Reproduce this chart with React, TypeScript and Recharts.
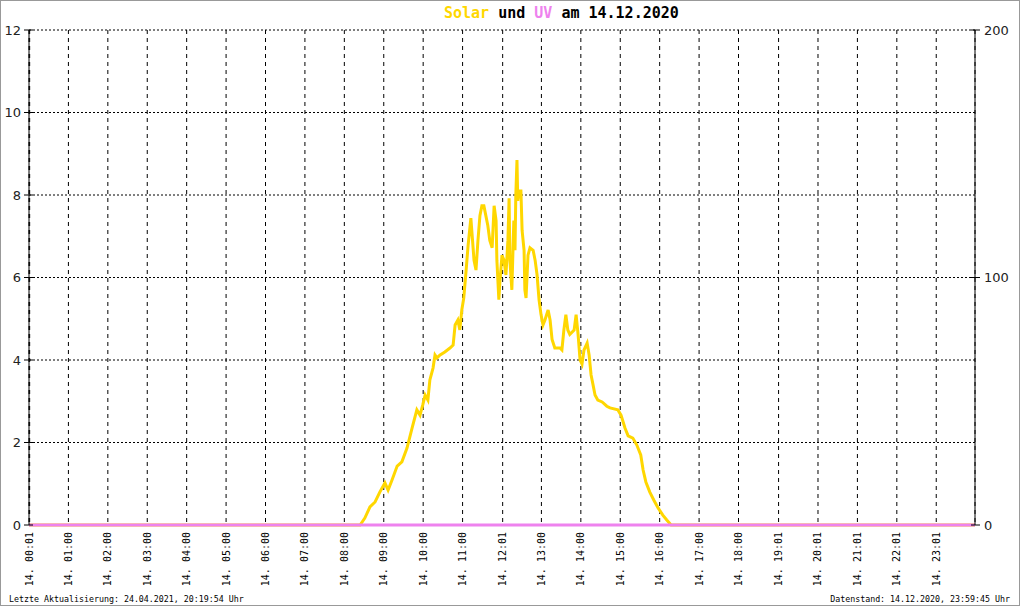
import React from 'react';
import { LineChart, Line, XAxis, YAxis, CartesianGrid } from 'recharts';

// time of day in hours
const solarTimes = [
  0, 8.4, 8.52, 8.65, 8.78, 8.9, 9.03, 9.11, 9.21, 9.34, 9.46, 9.59, 9.72, 9.84, 9.92, 9.99,
  10.05, 10.12, 10.17, 10.25, 10.3, 10.35, 10.43, 10.55, 10.68, 10.76, 10.81, 10.88, 10.93, 10.98,
  11.03, 11.09, 11.14, 11.21, 11.29, 11.34, 11.39, 11.44, 11.49, 11.54, 11.59, 11.64, 11.69, 11.75,
  11.8, 11.85, 11.87, 11.92, 11.95, 12.0, 12.05, 12.1, 12.15, 12.18, 12.2, 12.25, 12.3, 12.33,
  12.35, 12.38, 12.4, 12.43, 12.48, 12.51, 12.56, 12.58, 12.61, 12.66, 12.71, 12.79, 12.84, 12.89,
  12.94, 12.99, 13.04, 13.09, 13.17, 13.22, 13.27, 13.34, 13.47, 13.52, 13.57, 13.62, 13.67, 13.72,
  13.83, 13.88, 13.93, 13.98, 14.03, 14.08, 14.16, 14.21, 14.26, 14.31, 14.36, 14.43, 14.54, 14.66,
  14.74, 14.94, 15.02, 15.12, 15.2, 15.32, 15.42, 15.52, 15.58, 15.65, 15.75, 15.85, 15.96, 16.08,
  16.18, 16.29, 24,
];

// solar radiation (right axis, 0..200)
const solarValues = [
  0, 0, 2.8, 7.3, 9.3, 13.3, 17, 14.1, 18.2, 23.8, 25.5, 31.1, 39.2, 46.5, 44.4, 48.5,
  52.5, 50.5, 58.6, 63.4, 68.7, 67.5, 68.7, 69.9, 71.5, 72.7, 80.8, 82.8, 78.8, 86.9,
  91.7, 103, 113, 124, 107, 103, 115, 125, 129, 129, 125, 121, 115, 112,
  129, 123, 107, 91, 99, 109, 107, 101, 115, 132, 107, 95, 123, 111,
  133, 147.5, 131, 135, 135, 119, 111, 95, 91.7, 109, 112, 111, 107, 101,
  91, 85, 80.8, 82.8, 86.9, 82.8, 75, 71.5, 71.5, 70.7, 78.8, 85, 78.8, 77,
  78.8, 85, 77, 66.7, 65, 70.7, 73.5, 68.7, 60.6, 56.6, 52.5, 50.5, 49.7, 48,
  47.3, 46.5, 44.4, 39.2, 36, 35.1, 32.3, 28.3, 22.2, 17.4, 13.3, 10.1, 6.9, 4,
  2, 0, 0,
];

// UV index (left axis, 0..12), flat all day
const uvTimes = [0, 24];
const uvValues = [0, 0];

const xTickLabels = [
  '14. 00:01', '14. 01:00', '14. 02:00', '14. 03:00', '14. 04:00', '14. 05:00', '14. 06:00',
  '14. 07:00', '14. 08:00', '14. 09:00', '14. 10:00', '14. 11:00', '14. 12:01', '14. 13:00',
  '14. 14:00', '14. 15:00', '14. 16:00', '14. 17:00', '14. 18:00', '14. 19:01', '14. 20:01',
  '14. 21:01', '14. 22:01', '14. 23:01',
];
const uvTicks = [0, 2, 4, 6, 8, 10, 12];
const solarTicks = [0, 100, 200];

const labelAt: Record<number, string> = {};
const xTicks = xTickLabels.map((l) => {
  const [hh, mm] = l.slice(4).split(':');
  const v = Number(hh) + Number(mm) / 60;
  labelAt[v] = l;
  return v;
});

const solarData = solarTimes.map((t, i) => ({ t, solar: solarValues[i] }));
const uvData = uvTimes.map((t, i) => ({ t, uv: uvValues[i] }));

const mono = '"DejaVu Sans Mono", "Liberation Mono", monospace';
const sans = '"DejaVu Sans", sans-serif';

const XTick = (props: any) => {
  const { x, payload } = props;
  const y = 532;
  return (
    <text
      x={x}
      y={y}
      dy="0.35em"
      textAnchor="end"
      transform={`rotate(-90 ${x} ${y})`}
      fontFamily={mono}
      fontSize={10}
      fill="#000"
    >
      {labelAt[payload.value]}
    </text>
  );
};

// tick mark crosses the axis line, label outside
const LeftTick = (props: any) => {
  const { y, payload } = props;
  const ax = 29;
  return (
    <g>
      <line x1={ax - 5} x2={ax + 4} y1={y} y2={y} stroke="#000" />
      <text x={ax - 8} y={y} dy="0.36em" textAnchor="end" fontFamily={sans} fontSize={13} fill="#222">
        {payload.value}
      </text>
    </g>
  );
};

const RightTick = (props: any) => {
  const { y, payload } = props;
  const ax = 975;
  return (
    <g>
      <line x1={ax - 4} x2={ax + 5} y1={y} y2={y} stroke="#000" />
      <text x={ax + 9} y={y} dy="0.36em" textAnchor="start" fontFamily={sans} fontSize={13} fill="#222">
        {payload.value}
      </text>
    </g>
  );
};

const App: React.FC = () => {
  return (
    <div
      style={{
        position: 'absolute',
        left: 0,
        top: 0,
        width: 1020,
        height: 606,
        background: '#fff',
        boxSizing: 'border-box',
        border: '1px solid #999',
      }}
    >
      <div
        style={{
          position: 'absolute',
          top: 3,
          left: 443,
          fontFamily: mono,
          fontSize: 15,
          fontWeight: 'bold',
          color: '#000',
          whiteSpace: 'pre',
        }}
      >
        <span style={{ color: '#FFD700' }}>Solar</span> und{' '}
        <span style={{ color: '#EE82EE' }}>UV</span> am 14.12.2020
      </div>
      <div style={{ position: 'absolute', left: -1, top: -1 }}>
        <LineChart width={1020} height={606} margin={{ top: 30, right: 0, bottom: 0, left: 0 }}>
          <CartesianGrid yAxisId="uv" vertical={false} stroke="#000" strokeDasharray="2 2" />
          <CartesianGrid yAxisId="uv" horizontal={false} stroke="#000" strokeDasharray="4 4" />
          <XAxis
            dataKey="t"
            type="number"
            domain={[0, 24]}
            ticks={xTicks}
            interval={0}
            height={81}
            axisLine={false}
            tickLine={false}
            tick={<XTick />}
            allowDuplicatedCategory={false}
          />
          <YAxis
            yAxisId="uv"
            orientation="left"
            domain={[0, 12]}
            ticks={uvTicks}
            width={29}
            axisLine={{ stroke: '#000' }}
            tickLine={false}
            tick={<LeftTick />}
          />
          <YAxis
            yAxisId="solar"
            orientation="right"
            domain={[0, 200]}
            ticks={solarTicks}
            width={45}
            axisLine={{ stroke: '#000' }}
            tickLine={false}
            tick={<RightTick />}
          />
          <Line
            yAxisId="solar"
            data={solarData}
            dataKey="solar"
            type="linear"
            stroke="#FFD700"
            strokeWidth={3}
            dot={false}
            isAnimationActive={false}
          />
          <Line
            yAxisId="uv"
            data={uvData}
            dataKey="uv"
            type="linear"
            stroke="#EE82EE"
            strokeWidth={3}
            dot={false}
            isAnimationActive={false}
          />
        </LineChart>
      </div>
      <div
        style={{
          position: 'absolute',
          left: 8,
          top: 593,
          fontFamily: mono,
          fontSize: 8.3,
          color: '#000',
          whiteSpace: 'nowrap',
        }}
      >
        Letzte Aktualisierung: 24.04.2021, 20:19:54 Uhr
      </div>
      <div
        style={{
          position: 'absolute',
          right: 9,
          top: 593,
          fontFamily: mono,
          fontSize: 8.3,
          color: '#000',
          whiteSpace: 'nowrap',
        }}
      >
        Datenstand: 14.12.2020, 23:59:45 Uhr
      </div>
    </div>
  );
};

export default App;
